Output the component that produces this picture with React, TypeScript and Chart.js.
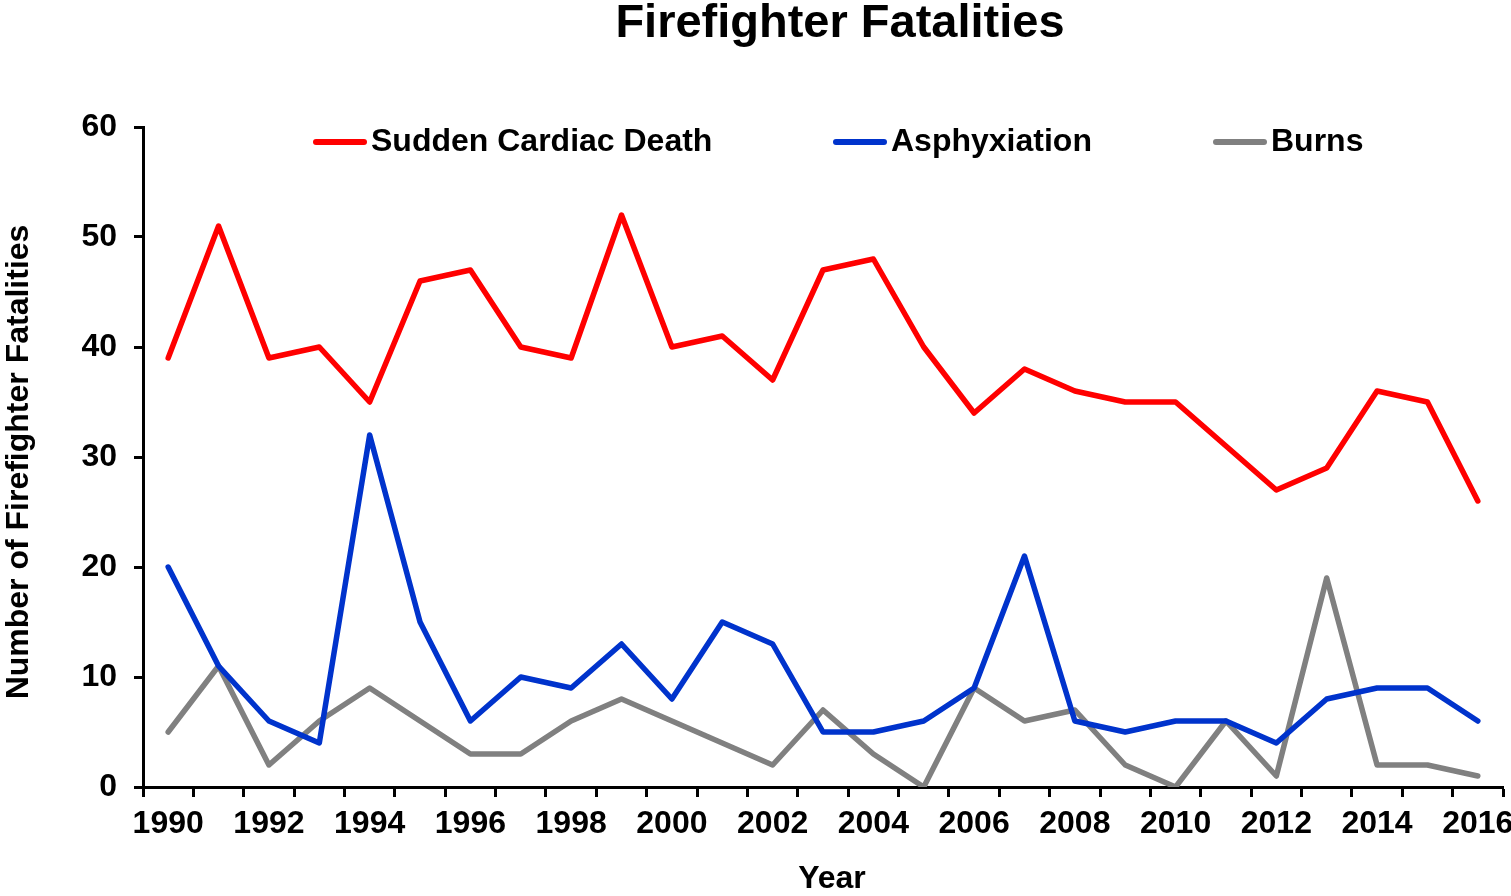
import React, { useEffect, useRef } from "react";
import { Chart, registerables } from "chart.js";

Chart.register(...registerables);

const TITLE = "Firefighter Fatalities";
const X_TITLE = "Year";
const Y_TITLE = "Number of Firefighter Fatalities";

const YEARS = [
  "1990", "1991", "1992", "1993", "1994", "1995", "1996", "1997", "1998",
  "1999", "2000", "2001", "2002", "2003", "2004", "2005", "2006", "2007",
  "2008", "2009", "2010", "2011", "2012", "2013", "2014", "2015", "2016",
];

const SERIES_LABELS = ["Sudden Cardiac Death", "Asphyxiation", "Burns"];
const SERIES_COLORS = ["#FF0000", "#0033CC", "#808080"];

const SUDDEN_CARDIAC = [
  39, 51, 39, 40, 35, 46, 47, 40, 39, 52, 40, 41, 37, 47, 48, 40, 34, 38, 36,
  35, 35, 31, 27, 29, 36, 35, 26,
];
const ASPHYXIATION = [
  20, 11, 6, 4, 32, 15, 6, 10, 9, 13, 8, 15, 13, 5, 5, 6, 9, 21, 6, 5, 6, 6, 4,
  8, 9, 9, 6,
];
const BURNS = [
  5, 11, 2, 6, 9, 6, 3, 3, 6, 8, 6, 4, 2, 7, 3, 0, 9, 6, 7, 2, 0, 6, 1, 19, 2,
  2, 1,
];

const Y_MIN = 0;
const Y_MAX = 60;
const Y_STEP = 10;

const FONT = "'Liberation Sans', Arial, Helvetica, sans-serif";

const titleLegendPlugin = {
  id: "titleLegend",
  afterDraw(chart: any) {
    const { ctx, chartArea } = chart;
    ctx.save();
    ctx.fillStyle = "#000";

    // Chart title
    ctx.font = `bold 47px ${FONT}`;
    ctx.textAlign = "center";
    ctx.textBaseline = "alphabetic";
    ctx.fillText(TITLE, 840, 37);

    // Axis titles
    ctx.font = `bold 32px ${FONT}`;
    ctx.textBaseline = "middle";
    ctx.fillText(X_TITLE, 832, 879);
    ctx.save();
    ctx.translate(19, 462);
    ctx.rotate(-Math.PI / 2);
    ctx.fillText(Y_TITLE, 0, 0);
    ctx.restore();

    // Legend
    const offsets = [170, 690, 1070];
    const y = 142;
    ctx.textAlign = "left";
    chart.data.datasets.forEach((ds: any, i: number) => {
      const x = chartArea.left + offsets[i];
      ctx.strokeStyle = ds.borderColor;
      ctx.lineWidth = 6;
      ctx.lineCap = "round";
      ctx.beginPath();
      ctx.moveTo(x + 3, y);
      ctx.lineTo(x + 51, y);
      ctx.stroke();
      ctx.fillStyle = "#000";
      ctx.fillText(ds.label, x + 58, y);
    });
    ctx.restore();
  },
};

export default function App() {
  const canvasRef = useRef<HTMLCanvasElement | null>(null);

  useEffect(() => {
    document.body.style.margin = "0";
    const canvas = canvasRef.current;
    if (!canvas) return;
    const series = [SUDDEN_CARDIAC, ASPHYXIATION, BURNS];
    const chart = new Chart(canvas, {
      type: "line",
      data: {
        labels: YEARS,
        datasets: series.map((values, i) => ({
          label: SERIES_LABELS[i],
          data: values,
          borderColor: SERIES_COLORS[i],
          backgroundColor: SERIES_COLORS[i],
          borderWidth: 5.5,
          pointRadius: 0,
          pointHoverRadius: 0,
          tension: 0,
          fill: false,
          borderJoinStyle: "round" as const,
          borderCapStyle: "round" as const,
        })),
      },
      options: {
        responsive: false,
        animation: false,
        layout: { padding: { top: 127, right: 8, left: 0, bottom: 0 } },
        plugins: {
          legend: { display: false },
          title: { display: false },
          tooltip: { enabled: false },
        },
        scales: {
          x: {
            type: "category",
            offset: true,
            afterFit: (scale: any) => {
              scale.height = 109;
              scale.paddingLeft = 0;
              scale.paddingRight = 0;
            },
            grid: {
              offset: true,
              drawOnChartArea: false,
              drawTicks: true,
              tickLength: 10,
              tickWidth: 3,
              tickColor: "#000",
            },
            border: { display: true, color: "#000", width: 3 },
            ticks: {
              autoSkip: false,
              maxRotation: 0,
              minRotation: 0,
              padding: 8,
              color: "#000",
              font: { family: FONT, size: 32, weight: "bold" },
              callback: (_v: any, index: number) =>
                index % 2 === 0 ? YEARS[index] : "",
            },
          },
          y: {
            min: Y_MIN,
            max: Y_MAX,
            afterFit: (scale: any) => {
              scale.width = 143;
              scale.paddingTop = 0;
              scale.paddingBottom = 0;
            },
            grid: {
              drawOnChartArea: false,
              drawTicks: true,
              tickLength: 9,
              tickWidth: 3,
              tickColor: "#000",
            },
            border: { display: true, color: "#000", width: 3 },
            ticks: {
              stepSize: Y_STEP,
              padding: 17,
              color: "#000",
              font: { family: FONT, size: 32, weight: "bold" },
            },
          },
        },
      },
      plugins: [titleLegendPlugin],
    });
    return () => chart.destroy();
  }, []);

  return (
    <div style={{ width: 1511, height: 896, background: "#fff" }}>
      <canvas ref={canvasRef} width={1511} height={896} />
    </div>
  );
}
